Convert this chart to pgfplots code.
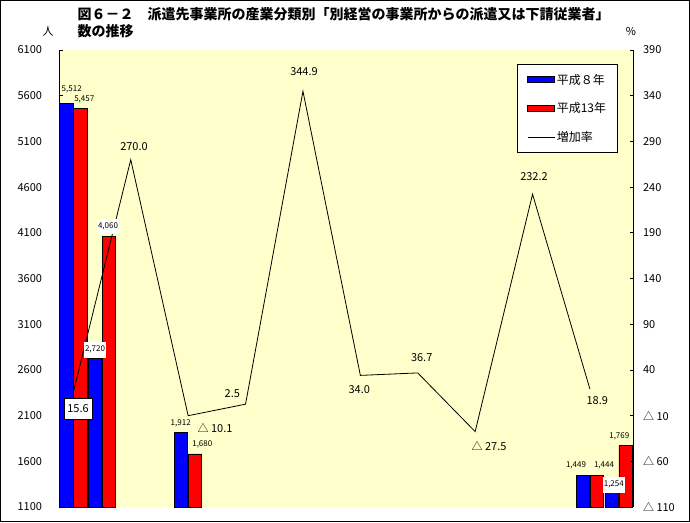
\documentclass[border=0pt]{standalone}
\usepackage{pgfplots}
\pgfplotsset{compat=1.18}
\usepackage{fontspec}
\setmainfont{Noto Sans CJK JP}
\definecolor{bgy}{RGB}{255,255,204}
\newcommand{\tl}{\fontsize{11}{12}\selectfont}
\newcommand{\bl}{\fontsize{8}{9}\selectfont}
\begin{document}
\begin{tikzpicture}
\useasboundingbox (0,0) rectangle (690pt,522pt);
\draw[line width=1.2pt] (0.6pt,0.6pt) rectangle (689.4pt,521.4pt);
\pgfplotsset{
  base/.style={
    scale only axis, width=574pt, height=457pt,
    at={(59pt,15pt)}, anchor=south west,
    xmin=-0.5, xmax=19.5,
    hide x axis,
    tick align=inside, major tick length=3.5pt,
    tick style={black, line width=0.8pt},
    axis line style={line width=0.8pt},
    ticklabel style={font=\tl},
    /pgf/number format/assume math mode=true,
    clip=true,
  }
}
\begin{axis}[base,
  axis y line*=left,
  ymin=1100, ymax=6100, ytick={1100,1600,...,6100},
  yticklabel style={/pgf/number format/fixed, /pgf/number format/1000 sep={}, xshift=-13.5pt},
  axis background/.style={fill=bgy},
  ybar=0.6pt, bar width=13.4pt,
]
\addplot[fill=blue, draw=black, line width=0.9pt] coordinates {(0,5512) (1,2720) (4,1912) (18,1449) (19,1254)};
\addplot[fill=red, draw=black, line width=0.9pt] coordinates {(0,5457) (1,4060) (4,1680) (18,1444) (19,1769)};
\end{axis}
\begin{axis}[base,
  axis y line*=right,
  ymin=-110, ymax=390, ytick={-110,-60,...,390},
  yticklabels={△ 110,△ 60,△ 10,40,90,140,190,240,290,340,390},
  yticklabel style={anchor=west, xshift=6.5pt},
  legend style={at={(axis description cs:0.798,0.969)}, anchor=north west,
    draw=black, fill=white, line width=0.8pt, font=\fontsize{12}{13}\selectfont,
    inner xsep=10pt, inner ysep=8pt, row sep=14pt,
    nodes={inner sep=1.5pt}},
  legend cell align=left,
]
\addlegendimage{legend image code/.code={\draw[fill=blue,draw=black,line width=0.8pt] (0pt,-3pt) rectangle (27pt,3pt);}}
\addlegendentry{平成８年}
\addlegendimage{legend image code/.code={\draw[fill=red,draw=black,line width=0.8pt] (0pt,-3pt) rectangle (27pt,3pt);}}
\addlegendentry{平成13年}
\addplot[black, line width=0.8pt, mark=none,
  legend image code/.code={\draw[black,line width=0.8pt] (0pt,0pt) -- (27pt,0pt);}]
  coordinates {(0,15.6) (2,270.0) (4,-10.1) (6,2.5) (8,344.9) (10,34.0) (12,36.7) (14,-27.5) (16,232.2) (18,18.9)};
\addlegendentry{増加率}
\end{axis}
% title and unit labels
\node[anchor=west, inner sep=0, font=\fontsize{14}{16}\selectfont\bfseries] at (77.5pt,508pt) {図６－２　派遣先事業所の産業分類別「別経営の事業所からの派遣又は下請従業者」};
\node[anchor=west, inner sep=0, font=\fontsize{14}{16}\selectfont\bfseries] at (77.5pt,491pt) {数の推移};
\node[inner sep=0, font=\tl] at (48pt,491pt) {人};
\node[inner sep=0, font=\tl] at (631pt,491pt) {\%};
% line value labels
\node[draw=black, fill=white, line width=0.8pt, inner sep=0, minimum width=28pt, minimum height=21pt, font=\tl] at (78pt,113.5pt) {15.6};
\node[inner sep=0, font=\tl] at (134pt,375.3pt) {270.0};
\node[inner sep=0, font=\tl] at (215pt,94pt) {△ 10.1};
\node[inner sep=0, font=\tl] at (232.3pt,128.7pt) {2.5};
\node[inner sep=0, font=\tl] at (304pt,450.3pt) {344.9};
\node[inner sep=0, font=\tl] at (359.3pt,132pt) {34.0};
\node[inner sep=0, font=\tl] at (421.7pt,164.3pt) {36.7};
\node[inner sep=0, font=\tl] at (489pt,76.3pt) {△ 27.5};
\node[inner sep=0, font=\tl] at (534pt,345.3pt) {232.2};
\node[inner sep=0, font=\tl] at (597.3pt,121pt) {18.9};
% bar value labels
\node[inner sep=0, font=\bl] at (71.7pt,432.7pt) {5,512};
\node[inner sep=0, font=\bl] at (84.3pt,423pt) {5,457};
\node[fill=white, inner sep=0, minimum width=22pt, minimum height=15pt, font=\bl] at (108pt,295.3pt) {4,060};
\node[fill=white, inner sep=0, minimum width=22pt, minimum height=16pt, font=\bl] at (95pt,172.3pt) {2,720};
\node[inner sep=0, font=\bl] at (180.7pt,98.7pt) {1,912};
\node[inner sep=0, font=\bl] at (202.3pt,78pt) {1,680};
\node[inner sep=0, font=\bl] at (576pt,56.7pt) {1,449};
\node[inner sep=0, font=\bl] at (604pt,56.7pt) {1,444};
\node[fill=white, inner sep=0, minimum width=22pt, minimum height=16pt, font=\bl] at (613.8pt,37.3pt) {1,254};
\node[inner sep=0, font=\bl] at (619.3pt,86pt) {1,769};
\end{tikzpicture}
\end{document}
